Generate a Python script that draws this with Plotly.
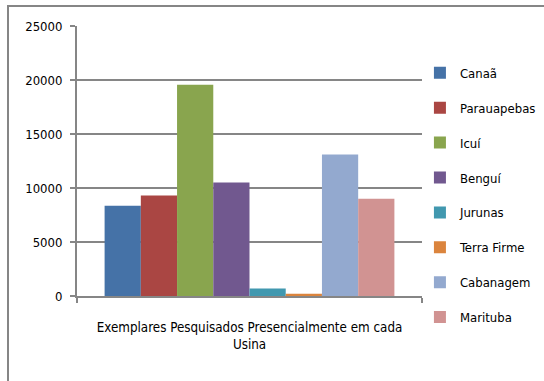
import plotly.graph_objects as go

category = ["Exemplares Pesquisados Presencialmente em cada<br>Usina"]
series_names = ["Canaã", "Parauapebas", "Icuí", "Benguí", "Jurunas",
                "Terra Firme", "Cabanagem", "Marituba"]
series_values = [8350, 9300, 19550, 10500, 700, 200, 13100, 9000]
colors = ["#4572A7", "#AA4643", "#89A54E", "#71588F", "#4198AF",
          "#DB843D", "#93A9CF", "#D19392"]
y_ticks = [0, 5000, 10000, 15000, 20000, 25000]
y_tick_labels = ["0", "5000", "10000", "15000", "20000", "25000"]

FONT = "Liberation Sans Narrow, DejaVu Sans Condensed, Arial Narrow, sans-serif"

fig = go.Figure()
for name, val, col in zip(series_names, series_values, colors):
    fig.add_trace(go.Bar(x=category, y=[val], name=name, marker_color=col,
                         marker_line_width=0, legendgroup=name))

fig.update_layout(
    width=544, height=381,
    margin=dict(l=77, r=122, t=26, b=85, autoexpand=False),
    paper_bgcolor="white", plot_bgcolor="white",
    barmode="group", bargap=0.16, bargroupgap=0,
    font=dict(family=FONT, size=13, color="#000000"),
    showlegend=True,
    legend=dict(x=0.994, y=0.882, xanchor="left", yanchor="top",
                traceorder="grouped", tracegroupgap=15, maxheight=400,
                font=dict(family=FONT, size=13), itemwidth=30,
                bgcolor="rgba(0,0,0,0)"),
    xaxis=dict(showline=True, linecolor="#868686", linewidth=2,
               ticks="outside", tickson="boundaries", ticklen=5,
               tickcolor="#868686", tickwidth=2, showgrid=False,
               tickangle=0, automargin=False, ticklabelstandoff=18,
               tickfont=dict(family=FONT, size=13.3)),
    yaxis=dict(range=[0, 25000], tickvals=y_ticks, ticktext=y_tick_labels,
               showline=True, automargin=False, ticklabelstandoff=5,
               linecolor="#868686", linewidth=2, ticks="outside", ticklen=5,
               tickcolor="#868686", tickwidth=2, showgrid=True,
               gridcolor="#868686", gridwidth=2, zeroline=False,
               tickfont=dict(family=FONT, size=13)),
    shapes=[dict(type="rect", xref="paper", yref="paper",
                 x0=-0.2, x1=1.37, y0=-0.33, y1=1.074,
                 line=dict(color="#868686", width=2), layer="below")],
)

fig.write_html("out.html", config={"displayModeBar": False},
               post_script="document.body.style.margin='0';"
                           "document.body.style.padding='0';")
